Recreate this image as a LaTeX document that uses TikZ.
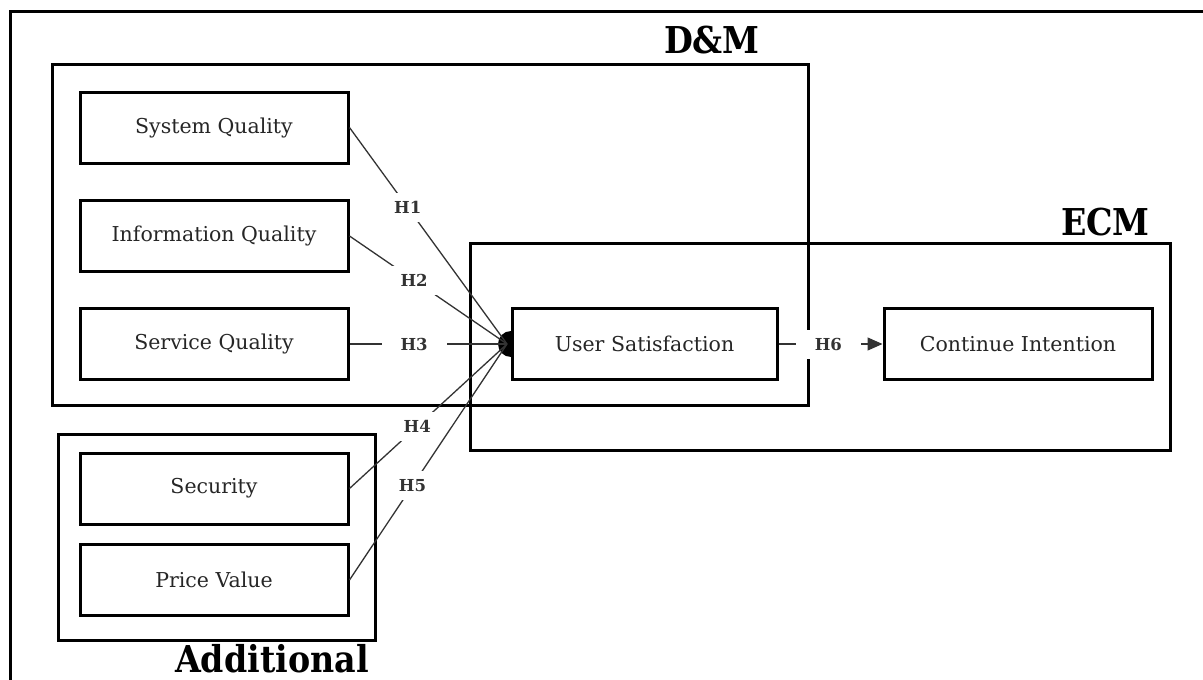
\documentclass[tikz,border=0pt]{standalone}
\usepackage{fontspec}
\setmainfont{DejaVu Serif}
\newfontfamily\titlefont[FakeStretch=0.9]{DejaVu Serif}
\usetikzlibrary{arrows.meta}
\tikzset{
  box/.style={draw=black, line width=3pt, fill=white, minimum width=268pt, minimum height=71pt, inner sep=0pt, text=black!85, font=\fontsize{20.5}{24}\selectfont},
  group/.style={draw=black, line width=3pt},
  conn/.style={draw=black!80, line width=1.3pt},
  hlab/.style={fill=white, inner xsep=19pt, inner ysep=0pt, minimum height=29pt, font=\bfseries\fontsize{16.5}{18}\selectfont, text=black!80},
  title/.style={font=\titlefont\bfseries\fontsize{37}{40}\selectfont, inner sep=0pt}
}
\begin{document}
\begin{tikzpicture}[x=1pt,y=-1pt]
\useasboundingbox (0,0) rectangle (1203,680);
\fill[white] (0,0) rectangle (1203,680);
\begin{scope}
\clip (0,0) rectangle (1203,680);
\draw[group] (10,11) rectangle (1215,700);
\end{scope}
% group boxes
\draw[group] (52,64) rectangle (808,405);
\draw[group] (470,243) rectangle (1170,450);
\draw[group] (58,434) rectangle (375,640);
\node[title, anchor=base east] (dm) at (760,53) {D\&M};
\node[title, anchor=base east] (ecm) at (1150,235) {ECM};
\node[title, anchor=base east] (add) at (369,672) {Additional};
% nodes
\node[box] (sq) at (214,127.5) {System Quality};
\node[box] (iq) at (214,236) {Information Quality};
\node[box] (svq) at (214,344) {Service Quality};
\node[box] (sec) at (214,488.5) {Security};
\node[box] (pv) at (214,580) {Price Value};
\coordinate (hub) at (507,344);
\fill[black] (511,344) circle (13pt);
\node[box, minimum width=265pt] (us) at (644.5,344) {User Satisfaction};
\node[box] (ci) at (1018,344) {Continue Intention};
% connectors
\draw[conn] (sq.east) -- node[hlab, pos=0.37] (h1) {H1} (hub);
\draw[conn] (iq.east) -- node[hlab, pos=0.41] (h2) {H2} (hub);
\draw[conn] (svq.east) -- node[hlab, pos=0.41] (h3) {H3} (hub);
\draw[conn] (sec.east) -- node[hlab, pos=0.43] (h4) {H4} (hub);
\draw[conn] (pv.east) -- node[hlab, pos=0.4] (h5) {H5} (hub);
\draw[conn, -{Triangle[length=15pt,width=13pt]}] (us.east) -- node[hlab, pos=0.48] (h6) {H6} (ci.west);
\end{tikzpicture}
\end{document}
